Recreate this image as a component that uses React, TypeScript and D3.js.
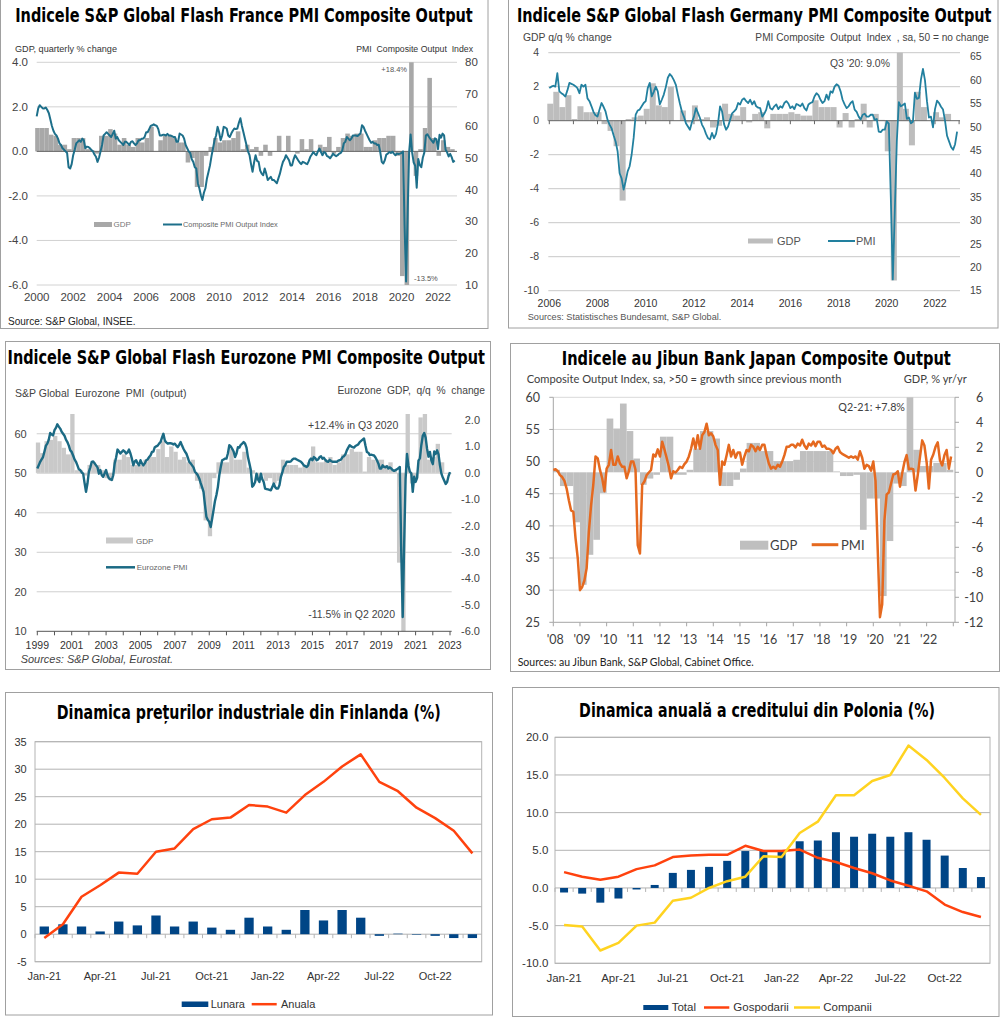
import React from "react";
import * as d3 from "d3";

// ---------- France ----------
const frPmi = [
  63, 65.5, 66.5, 66, 65.5, 65.5, 65.8, 65, 64, 62, 60, 58.5,
  57.5, 57, 56, 54.5, 54, 53, 52.5, 52, 51.5, 47, 46.6, 48,
  50.8, 52.5, 54.5, 55, 55.5, 55, 56, 55.5, 53, 53.5, 53.4, 53,
  52.4, 52, 51, 50.3, 48.7, 50, 52, 54, 57, 57.5, 58, 57.5,
  57, 56.5, 57.5, 58.5, 56, 56.5, 55.5, 55, 54.5, 54, 55, 55,
  54.5, 54, 55, 55.2, 54.5, 54, 54.5, 55.5, 55.5, 56, 56, 56.5,
  58, 58, 59, 60, 60.2, 60.5, 60.2, 60, 59, 57, 57, 57.2,
  57.2, 57, 57.5, 57, 57, 56.8, 56.5, 56.5, 55, 55, 57.6, 57.3,
  57, 56, 54, 53, 52, 51.5, 49.5, 48.7, 47, 46.6, 42, 40.4,
  38.2, 36.7, 39, 40.4, 43.5, 45.5, 47.6, 50.5, 53, 55.5, 57, 59.7,
  58, 55.5, 57, 59.7, 59.5, 59.2, 57, 56.5, 57.6, 58.5, 59.2, 59,
  59.2, 61, 62.4, 60, 58, 56, 54, 52, 50.8, 48, 45.6, 48.5,
  50.8, 49, 48.7, 46, 45, 44.5, 46.6, 45, 43, 43.5, 44, 43,
  43, 42.5, 42, 43.5, 45, 47, 48.7, 49.5, 50.8, 50, 49.2, 47.6,
  47.6, 49.5, 50.8, 50, 49.2, 48.5, 48, 48.7, 48.5, 48.2, 48, 49,
  50.3, 51, 51.8, 51.2, 50.8, 52, 52.9, 51.8, 50.8, 51.8, 51.5, 50.5,
  50.3, 49.8, 50.5, 51.3, 50.8, 50.5, 50.8, 51.3, 51.5, 52.2, 54.5, 55,
  56.5, 56, 55.5, 56, 57, 57, 57, 56.8, 57.2, 57.6, 60.2, 59.7,
  58.5, 57.5, 56.5, 55.5, 54.7, 55, 54.5, 54.5, 54, 54.1, 51.8, 48.7,
  48.2, 49.2, 51, 51.3, 51.8, 51.5, 51.9, 51.3, 50.8, 51.3, 51.2, 51.3,
  51.5, 52, 28.9, 11.1, 32.1, 51.7, 57.3, 51.6, 48.5, 47.5, 40.6, 49.6,
  47.7, 47, 50, 51.6, 57, 57.4, 56.6, 55.9, 55.3, 54.7, 56.1, 55.8,
  52.7, 57.2, 56.3, 57.6, 57, 52.5, 51.7, 50.4, 51.2, 50.2, 48.7, 49.1,
];
const frGdp = [
  1.05, 1.05, 1.05, 0.75, 0.7, 0.3, 0.3, 0.1, 0.6, 0.6, 0.6, 0.1,
  0.05, -0.1, 0.7, 0.7, 1.0, 0.8, 0.3, 0.6, 0.3, 0.2, 0.6, 0.4,
  0.6, 1.1, 0.0, 0.5, 0.7, 0.7, 0.6, 0.4, 0.4, -0.5, -0.3, -1.6,
  -1.6, -0.2, 0.2, 0.6, 0.4, 0.5, 0.5, 0.6, 0.9, 0.1, 0.3, 0.1,
  0.2, -0.2, 0.3, -0.2, 0.0, 0.7, 0.0, 0.7, 0.0, -0.1, 0.55, 0.1,
  0.55, 0.0, 0.3, 0.2, 0.65, -0.1, 0.2, 0.6, 0.8, 0.7, 0.8, 0.8,
  0.2, 0.2, 0.5, 0.6, 0.6, 0.7, 0.7, -0.2, -5.6, -13.5, 18.4, -1.1,
  0.1, 1.05, 3.3, 0.6, -0.2, 0.5, 0.2, 0.1,
];
const frGdpTicks = [4, 2, 0, -2, -4, -6];
const frPmiTicks = [80, 70, 60, 50, 40, 30, 20, 10];
const frYears = [2000, 2002, 2004, 2006, 2008, 2010, 2012, 2014, 2016, 2018, 2020, 2022];

// ---------- Germany ----------
const dePmi = [
  58.3, 58.6, 58.8, 58.6, 61.5, 57.6, 57.2, 56.9, 56.5, 57.8, 59.4, 59.2,
  59, 58.7, 58.3, 57.2, 59, 58.6, 59, 56.1, 55.5, 54.4, 53.2, 52.5,
  52.2, 53.7, 55.1, 54.3, 53.3, 51.5, 50.5, 49.7, 48.2, 46.9, 44.8, 40.1,
  39, 36.6, 38.4, 40.5, 41.6, 44.1, 47.7, 52.6, 53.5, 53.7, 54.4, 55.1,
  55.5, 58.3, 59.4, 56.5, 57.5, 58.6, 57.6, 54.8, 55.8, 56.9, 58.5, 60.5,
  61.3, 60.8, 60, 59, 56.9, 55, 53.3, 52.2, 50.8, 50.1, 49.4, 51,
  52.2, 54, 53, 51.9, 50.5, 49.7, 48.5, 47.6, 47.3, 48.7, 47.6, 48.5,
  50.8, 54.4, 53.3, 50.6, 49.4, 50.1, 51.5, 52.9, 53.3, 53.8, 55.1, 54.8,
  55.8, 56.1, 55.5, 55.1, 55.8, 54.8, 55.5, 54.4, 54.1, 54, 52.2, 52.8,
  53.7, 55.5, 54, 53.7, 54.4, 54.8, 53.8, 54.4, 54.1, 55.1, 55.5, 55,
  54, 54.4, 53.8, 54.9, 54.7, 54.4, 55, 54, 53.5, 54.8, 55.1, 55.3,
  56.5, 57.2, 56.8, 55.8, 55.1, 55.5, 56.9, 55.8, 57.6, 57.3, 58.6, 59.1,
  58.8, 57.6, 55.8, 54.8, 54, 54.4, 55.1, 55.5, 53.7, 53.2, 52.2, 51.6,
  52.6, 52.8, 52.2, 52.2, 52.6, 52.6, 51.5, 51.7, 49, 48.9, 49.4, 49.4,
  51.2, 50.7, 35, 17.4, 32.3, 47, 55.3, 54.4, 54.7, 55, 51.7, 52,
  50.8, 51.1, 57.3, 56, 56.2, 60.1, 62.4, 60, 55.5, 52, 52.2, 49.9,
  53.8, 55.6, 55.1, 54.3, 53.7, 51.3, 48.1, 46.9, 45.7, 45.1, 46.3, 49,
];
const deGdp = [
  1.0, 1.7, 0.8, 1.5, 0.1, 0.85, 0.5, 0.5, 0.5, -0.2, -0.6, -1.5,
  -4.7, 0.1, 0.2, 0.3, 0.7, 2.2, 0.9, 0.8, 2.0, 0.0, 0.6, -0.1,
  0.9, 0.1, 0.2, -0.4, -0.3, 1.0, 0.4, 0.3, 0.8, -0.1, 0.4, 0.5,
  -0.45, 0.4, 0.4, 0.4, 0.5, 0.4, 0.3, 0.3, 1.2, 0.8, 0.8, 0.8,
  -0.4, 0.45, -0.4, 0.1, 1.0, -0.4, 0.4, 0.05, -1.8, -9.4, 9.0, 0.7,
  -1.45, 1.7, 0.8, 0.0, 0.5, 0.2, 0.4, 0.0,
];
const deGdpTicks = [4, 2, 0, -2, -4, -6, -8, -10];
const dePmiTicks = [65, 60, 55, 50, 45, 40, 35, 30, 25, 20, 15];
const deYears = [2006, 2008, 2010, 2012, 2014, 2016, 2018, 2020, 2022];

// ---------- Eurozone ----------
const ezPmi = [
  51.2, 52, 52.9, 53.5, 54.1, 55.5, 57, 57.5, 58.5, 60.2, 59.8, 59.6,
  60.9, 61.5, 62.4, 61.8, 61.3, 60.5, 60, 59.5, 58.5, 57.9, 57, 55.8,
  55.4, 54.5, 53.5, 52.9, 52, 51, 50.8, 50.2, 49.9, 47.5, 45.3, 47.4,
  50.4, 51.5, 52.9, 53, 52.5, 52, 51.5, 49.9, 50.8, 49.5, 49.1, 50,
  50.8, 49.5, 48.7, 48.5, 48.3, 49.5, 52.5, 54, 56, 55.5, 55, 55.4,
  55.8, 55.5, 55, 55.3, 56, 55, 53.7, 52, 53, 53.3, 52.5, 52,
  53.3, 52.5, 52, 52.5, 53.3, 53.5, 54.1, 54.5, 55.4, 55.5, 56.6, 56.8,
  57, 57.5, 57.9, 59, 60, 58.3, 57.8, 57.5, 57.6, 57.6, 57.5, 57.3,
  57.5, 57, 56.6, 57.2, 57.9, 57, 56.2, 55.5, 55, 54, 52.9, 52.5,
  52, 51.5, 50.4, 50, 49.5, 48.7, 47.5, 46.5, 45.3, 42, 39, 38.2,
  37.7, 36.4, 38.5, 40.7, 43, 44.5, 46.5, 49.5, 51.5, 53.3, 53.5, 53.7,
  53.7, 55, 57.1, 56.8, 56.2, 55.5, 54.1, 55, 56.6, 56.5, 57.2, 57.5,
  57.9, 57.5, 56.5, 54.1, 52.5, 50.8, 46.6, 47, 47.8, 49.9, 48.5, 47.8,
  49.9, 48.5, 47.8, 46.1, 46, 45.9, 45.8, 45.7, 46.5, 47.4, 46.5, 46.1,
  46.1, 47, 49.1, 50.2, 51.6, 52, 52.9, 52.9, 52.9, 53, 53.5, 53.7,
  53.7, 53.5, 53.3, 53.1, 52.9, 52.5, 52, 51.8, 51.6, 52, 53.3, 53.7,
  53.3, 54.1, 53.8, 53.3, 53.5, 54.1, 54.3, 53.7, 53.9, 53.4, 53, 52.9,
  53.4, 53.1, 52.9, 52.9, 52.9, 52.9, 53.2, 53.3, 53.5, 54.1, 54.3, 54.8,
  55.8, 56.5, 57.1, 56.8, 56.6, 56.5, 56.9, 57.1, 57.3, 57.9, 58.2, 58.5,
  58.8, 57, 55.4, 55.2, 54.6, 54.7, 54.6, 54.5, 54, 53.3, 52.5, 51.2,
  51.2, 52, 51.6, 51.5, 51.8, 51.2, 51.5, 51.2, 50.8, 50.6, 50.8, 51,
  51.3, 51.6, 29.7, 13.6, 31.9, 48.5, 54.9, 51.9, 50.4, 50, 45.3, 49.1,
  47.8, 48.8, 53.2, 53.8, 57.1, 59.5, 60.2, 59, 56.2, 54.2, 55.4, 53.3,
  52.3, 55.5, 54.9, 55.8, 54.8, 52, 49.9, 48.9, 48.1, 47.3, 47.8, 49.3,
  50.3,
];
const ezGdp = [
  1.15, 0.75, 1.2, 1.25, 1.4, 1.2, 0.95, 0.7, 2.5, 0.1, 0.1, -0.1,
  0.3, 0.4, 0.3, 0.1, -0.2, -0.3, 0.5, 0.5, 0.7, 0.6, 0.3, 0.3,
  0.3, 0.5, 0.6, 0.6, 0.9, 1.2, 0.6, 1.0, 0.8, 0.5, 0.6, 0.4,
  0.5, -0.3, -0.6, -1.8, -2.4, -0.2, 0.4, 0.4, 0.4, 0.9, 0.5, 0.5,
  0.8, 0.2, 0.1, -0.3, -0.1, -0.3, -0.2, -0.4, -0.3, 0.5, 0.3, 0.3,
  0.3, 0.2, 0.3, 0.4, 1.0, 0.4, 0.4, 0.5, 0.6, 0.3, 0.4, 0.7,
  0.7, 0.9, 0.8, 0.8, 0.05, 0.6, 0.5, 0.5, 0.5, 0.3, 0.4, 0.1,
  -3.4, -11.5, 12.4, -0.4, -0.2, 2.1, 2.3, 0.5, 0.6, 1.1, 0.4, 0.0,
];
const ezPmiTicks = [60, 50, 40, 30, 20, 10];
const ezGdpTicks = [2, 1, 0, -1, -2, -3, -4, -5, -6];
const ezYears = [1999, 2001, 2003, 2005, 2007, 2009, 2011, 2013, 2015, 2017, 2019, 2021, 2023];

// ---------- Japan ----------
const jpPmi = [
  48.7, 48.8, 48.5, 47.9, 47.6, 47, 45.8, 44, 42.4, 42.2, 38.1, 35,
  30, 30.5, 31.5, 33.4, 39.1, 43.2, 46.4, 50.8, 50.5, 48.7, 47.4, 45.4,
  48.9, 49.5, 51.8, 49.5, 49.5, 50.8, 49.7, 49.2, 49.2, 47.4, 48.5, 50,
  50, 48.7, 37, 35.7, 46.4, 46.9, 47.9, 48.3, 48.7, 51.1, 50.8, 51.9,
  50.8, 53.1, 51.9, 50.6, 49.2, 47.4, 48.5, 48.3, 48.7, 49.2, 49, 49.6,
  50, 50.8, 52, 53.6, 52, 54.1, 52, 54.1, 54.6, 55.9, 54.1, 54.4,
  53.9, 52.6, 51.8, 46.4, 50, 49.5, 51, 52.6, 50.8, 51.8, 50.6, 51.4,
  51.4, 49.5, 50.8, 51.8, 51.6, 52.6, 52.3, 51.6, 52.3, 51.8, 52.6, 52.6,
  51, 49.7, 48.9, 49.2, 48.9, 49.5, 49.2, 50, 51, 52.3, 52.3, 52.6,
  52.6, 52.2, 52.8, 52.5, 53.4, 52.5, 52, 52.8, 52.5, 53.1, 52.4, 53.1,
  53.1, 52.3, 52.5, 52, 52, 51.8, 51.3, 52, 52.3, 51.5, 51.2, 51,
  50.8, 50.6, 50.8, 50.6, 50.8, 50.3, 51.6, 50.6, 48.9, 49.5, 49.3, 48.6,
  50, 47, 36.2, 25.8, 27.8, 40.8, 44.9, 45.2, 46.6, 48, 48.1, 48.5,
  46.1, 48.2, 49.9, 51, 48.8, 48.9, 48.8, 45.5, 47.9, 50.7, 53.3, 52.5,
  49.9, 45.8, 50.3, 51.1, 52.3, 53, 50.2, 49.4, 51, 51.8, 48.9, 50.8,
];
const jpGdp = [
  0.2, -1.1, -1.1, -4.0, -9.0, -6.6, -5.4, -1.65, 4.3, 3.5, 5.5, 3.3,
  1.1, -1.0, -0.5, -0.2, 2.85, 2.85, -0.2, -0.2, 0.2, 1.9, 3.3, 3.3,
  2.7, -1.1, -1.1, -0.6, 0.3, 2.35, 2.35, 1.7, 1.7, 0.9, 0.9, 0.9,
  1.0, 1.7, 1.7, 1.7, 1.7, 1.7, 0.07, -0.3, -0.3, -0.2, -4.6, -2.1,
  -2.1, -9.9, -5.5, -0.9, -1.1, 7.8, 1.8, 0.5, 0.5, 0.75, 0.75, 0.2,
];
const jpPmiTicks = [60, 55, 50, 45, 40, 35, 30, 25];
const jpGdpTicks = [6, 4, 2, 0, -2, -4, -6, -8, -10, -12];
const jpYears = [2008, 2009, 2010, 2011, 2012, 2013, 2014, 2015, 2016, 2017, 2018, 2019, 2020, 2021, 2022];
const jpYearLabels = ["'08", "'09", "'10", "'11", "'12", "'13", "'14", "'15", "'16", "'17", "'18", "'19", "'20", "'21", "'22"];

// ---------- Finland / Poland (monthly) ----------
const months = [
  "Jan-21", "Feb-21", "Mar-21", "Apr-21", "May-21", "Jun-21", "Jul-21", "Aug-21", "Sep-21", "Oct-21", "Nov-21", "Dec-21",
  "Jan-22", "Feb-22", "Mar-22", "Apr-22", "May-22", "Jun-22", "Jul-22", "Aug-22", "Sep-22", "Oct-22", "Nov-22", "Dec-22",
];
const fiLunara = [1.4, 1.8, 1.4, 0.5, 2.3, 1.6, 3.4, 1.4, 2.3, 1.2, 0.8, 3.0, 1.4, 0.8, 4.4, 2.5, 4.4, 3.0, -0.3, 0.1, -0.1, -0.3, -0.7, -0.7];
const fiAnuala = [-0.7, 1.8, 6.8, 8.9, 11.2, 11.0, 15.0, 15.6, 19.1, 20.9, 21.2, 23.5, 23.2, 22.1, 25.3, 27.7, 30.5, 32.7, 27.7, 26.0, 23.0, 21.1, 18.8, 14.7];
const fiTicks = [35, 30, 25, 20, 15, 10, 5, 0, -5];

const plTotal = [-0.6, -0.75, -1.95, -1.4, -0.2, 0.4, 2.0, 2.4, 2.8, 3.6, 4.9, 5.0, 5.0, 6.2, 6.3, 7.4, 6.8, 7.2, 6.8, 7.4, 6.4, 4.3, 2.65, 1.45];
const plGosp = [2.1, 1.5, 1.1, 1.5, 2.5, 3.0, 4.1, 4.3, 4.4, 4.4, 5.6, 4.9, 4.9, 5.1, 4.0, 3.45, 2.65, 1.95, 1.0, 0.3, -0.45, -2.2, -3.2, -3.85];
const plComp = [-4.9, -5.1, -8.3, -7.3, -5.0, -4.6, -1.7, -1.3, 0.0, 0.9, 1.5, 4.2, 4.1, 7.3, 8.8, 12.3, 12.3, 14.2, 15.0, 18.9, 17.0, 14.6, 11.9, 9.7];
const plTicks = [20, 15, 10, 5, 0, -5, -10];

// ---------- helpers ----------
const ARIAL = "'Liberation Sans', Arial, sans-serif";
const NARROW = "'Liberation Sans Narrow', 'Arial Narrow', 'Liberation Sans', sans-serif";
const COND = "'DejaVu Sans Condensed', 'Liberation Sans Narrow', sans-serif";
const CALIBRI = "Lato, 'Open Sans', sans-serif";
const FRAME = "#a0a0a0";

let measureCtx: CanvasRenderingContext2D | null = null;
const measure = (s: string, font: string) => {
  if (!measureCtx) measureCtx = document.createElement("canvas").getContext("2d");
  if (!measureCtx) return 0;
  measureCtx.font = font;
  return measureCtx.measureText(s).width;
};

type TP = {
  x: number; y: number; children: React.ReactNode; size?: number; anchor?: string;
  weight?: string | number; family?: string; fill?: string; len?: number; italic?: boolean; dy?: string;
};
// len: target width in px; the text is measured and squeezed/stretched horizontally to fit it
const T = ({ x, y, children, size = 11, anchor = "start", weight = "normal", family = ARIAL, fill = "#333", len, italic, dy }: TP) => {
  const common = {
    fontSize: size, textAnchor: anchor as any, fontWeight: weight as any, fontFamily: family, fill,
    fontStyle: italic ? "italic" : undefined, style: { whiteSpace: "pre" as const },
  };
  if (len) {
    const font = `${italic ? "italic " : ""}${weight} ${size}px ${family}`;
    const w = measure(String(children), font);
    const sx = w > 0 ? len / w : 1;
    return (
      <text transform={`translate(${x},${y}) scale(${sx},1)`} x={0} y={0} dy={dy} {...common}>{children}</text>
    );
  }
  return <text x={x} y={y} dy={dy} {...common}>{children}</text>;
};

const Title = ({ cx, y, len, size, children }: { cx: number; y: number; len: number; size: number; children: string }) => (
  <T x={cx} y={y} anchor="middle" size={size} weight="bold" family={COND} fill="#000" len={len}>{children}</T>
);

const monthPath = (vals: number[], start: number, x: any, y: any) =>
  d3.line<number>().x((_, i) => x(start + i / 12)).y((v) => y(v))(vals) || "";

// quarterly bars; off = offset (years) of the bar's left edge from the quarter start
const QBars = ({ vals, start, x, y, fill, off }: { vals: number[]; start: number; x: any; y: any; fill: string; off: number }) => {
  const w = x(start + 0.25) - x(start);
  return (
    <g>
      {vals.map((v, i) => {
        const x0 = x(start + i / 4 + off);
        const a = y(0), b = y(v);
        return <rect key={i} x={x0} width={w} y={Math.min(a, b)} height={Math.abs(b - a)} fill={fill} />;
      })}
    </g>
  );
};

// ---------- panels ----------
function France() {
  const x = d3.scaleLinear().domain([2000, 2022]).range([36.7, 438]);
  const g = d3.scaleLinear().domain([-6, 4]).range([285, 62.3]).clamp(true);
  const p = d3.scaleLinear().domain([10, 80]).range([285, 62.3]);
  const L = 36.7, R = 457;
  const teal = "#1d6f8a";
  return (
    <g>
      <rect x={0.5} y={-2} width={487.5} height={330.5} fill="none" stroke={FRAME} />
      <Title cx={244} y={21.7} len={458} size={19}>Indicele S&amp;P Global Flash France PMI Composite Output</Title>
      <T x={15} y={51.7} size={9.5} len={102}>GDP, quarterly % change</T>
      <T x={473} y={51.7} size={9.5} anchor="end" len={117}>PMI  Composite Output  Index</T>
      {frGdpTicks.filter((t) => t !== 0).map((t) => (
        <line key={t} x1={L} x2={R} y1={g(t)} y2={g(t)} stroke="#d2d2d2" />
      ))}
      <QBars vals={frGdp} start={2000} x={x} y={g} fill="#a8a8a8" off={-1 / 12} />
      <line x1={L} x2={R} y1={g(0)} y2={g(0)} stroke="#666" />
      <path d={monthPath(frPmi, 2000, x, p)} fill="none" stroke={teal} strokeWidth={2} strokeLinejoin="round" />
      {frGdpTicks.map((t) => (
        <T key={t} x={28} y={g(t)} dy="0.35em" anchor="end" size={11.5} family={NARROW} fill="#444">{t.toFixed(1)}</T>
      ))}
      {frPmiTicks.map((t) => (
        <T key={t} x={465} y={p(t)} dy="0.35em" size={11.5} family={NARROW} fill="#444">{t}</T>
      ))}
      {frYears.map((yr) => (
        <T key={yr} x={x(yr)} y={301} anchor="middle" size={11.5} family={NARROW} fill="#444">{yr}</T>
      ))}
      <rect x={94} y={222} width={18} height={5} fill="#a8a8a8" />
      <T x={113.5} y={227} size={8} fill="#777">GDP</T>
      <line x1={163} x2={182} y1={224.5} y2={224.5} stroke={teal} strokeWidth={2} />
      <T x={183} y={227} size={8} fill="#666" len={95}>Composite PMI Output Index</T>
      <T x={407} y={72} size={7.5} anchor="end" fill="#555">+18.4%</T>
      <T x={414} y={281} size={7.5} fill="#555">-13.5%</T>
      <T x={8} y={325} size={11} fill="#222" len={128}>Source: S&amp;P Global, INSEE.</T>
    </g>
  );
}

function Germany() {
  const x = d3.scaleLinear().domain([2006, 2022]).range([549.3, 935]);
  const g = d3.scaleLinear().domain([-10, 4]).range([290.7, 52.7]).clamp(true);
  const p = d3.scaleLinear().domain([15, 65]).range([290.7, 56.7]);
  const L = 548.3, R = 960;
  const teal = "#22809f";
  return (
    <g>
      <rect x={508.5} y={-2} width={489.5} height={330} fill="none" stroke={FRAME} />
      <Title cx={754.2} y={21.7} len={475} size={19}>Indicele S&amp;P Global Flash Germany PMI Composite Output</Title>
      <T x={523} y={40.7} size={10.5} len={89} fill="#444">GDP q/q % change</T>
      <T x={989} y={40.7} size={10.5} anchor="end" len={234} fill="#444">PMI Composite  Output  Index  , sa, 50 = no change</T>
      {deGdpTicks.filter((t) => t !== 0).map((t) => (
        <line key={t} x1={L} x2={R} y1={g(t)} y2={g(t)} stroke="#c8c8c8" />
      ))}
      <QBars vals={deGdp} start={2006} x={x} y={g} fill="#bdbdbd" off={-1 / 12} />
      <line x1={L} x2={R} y1={g(0)} y2={g(0)} stroke="#666" />
      {d3.range(2006, 2024).map((yr) => (
        <line key={yr} x1={x(yr)} x2={x(yr)} y1={g(0)} y2={g(0) + 3.5} stroke="#666" />
      ))}
      <path d={monthPath(dePmi, 2006, x, p)} fill="none" stroke={teal} strokeWidth={1.8} strokeLinejoin="round" />
      {deGdpTicks.map((t) => (
        <T key={t} x={539} y={g(t)} dy="0.35em" anchor="end" size={10.5} fill="#444">{t}</T>
      ))}
      {dePmiTicks.map((t) => (
        <T key={t} x={970} y={p(t)} dy="0.35em" size={10.5} fill="#444">{t}</T>
      ))}
      {deYears.map((yr) => (
        <T key={yr} x={x(yr)} y={307} anchor="middle" size={10.5} fill="#333">{yr}</T>
      ))}
      <rect x={748} y={238.5} width={25} height={5} fill="#bdbdbd" />
      <T x={777} y={245} size={11} fill="#555">GDP</T>
      <line x1={828} x2={855} y1={241} y2={241} stroke={teal} strokeWidth={2} />
      <T x={856} y={245} size={11} fill="#555">PMI</T>
      <T x={830} y={67} size={10} fill="#444" len={60}>Q3 '20: 9.0%</T>
      <T x={527.7} y={319.5} size={8.5} fill="#555" len={194}>Sources: Statistisches Bundesamt, S&amp;P Global.</T>
    </g>
  );
}

function Eurozone() {
  const x = d3.scaleLinear().domain([1999, 2023]).range([37.3, 450]);
  const p = d3.scaleLinear().domain([10, 65]).range([631.3, 414]);
  const g = d3.scaleLinear().domain([-6, 2.23]).range([631.3, 414]).clamp(true);
  const L = 36.7, R = 451.7;
  const teal = "#1b6a84";
  return (
    <g>
      <rect x={5.5} y={341.5} width={485} height={328} fill="none" stroke={FRAME} />
      <Title cx={246.2} y={364} len={477.7} size={19.5}>Indicele S&amp;P Global Flash Eurozone PMI Composite Output</Title>
      <T x={15} y={397} size={10.5} len={171.7} fill="#444">S&amp;P Global  Eurozone  PMI  (output)</T>
      <T x={485} y={393.5} size={10.5} anchor="end" len={147.7} fill="#444">Eurozone  GDP,  q/q  %  change</T>
      {ezPmiTicks.filter((t) => t !== 10).map((t) => (
        <line key={t} x1={L} x2={R} y1={p(t)} y2={p(t)} stroke="#cfcfcf" />
      ))}
      <QBars vals={ezGdp} start={1999} x={x} y={g} fill="#c9c9c9" off={-1 / 12} />
      <line x1={L} x2={R} y1={p(10)} y2={p(10)} stroke="#555" />
      {d3.range(1999, 2024).map((yr) => (
        <line key={yr} x1={x(yr)} x2={x(yr)} y1={p(10)} y2={p(10) + 4} stroke="#555" />
      ))}
      <path d={monthPath(ezPmi, 1999, x, p)} fill="none" stroke={teal} strokeWidth={2.4} strokeLinejoin="round" />
      {ezPmiTicks.map((t) => (
        <T key={t} x={26.7} y={p(t)} dy="0.35em" anchor="end" size={11} fill="#444">{t}</T>
      ))}
      {ezGdpTicks.map((t) => (
        <T key={t} x={480} y={g(t)} dy="0.35em" anchor="end" size={11} fill="#444">{t.toFixed(1)}</T>
      ))}
      {ezYears.map((yr) => (
        <T key={yr} x={x(yr)} y={648.5} anchor="middle" size={10.5} fill="#333">{yr}</T>
      ))}
      <rect x={106} y={537.5} width={27} height={6} fill="#c9c9c9" />
      <T x={136} y={543.5} size={8} fill="#666">GDP</T>
      <line x1={106} x2={135} y1={567.3} y2={567.3} stroke={teal} strokeWidth={2.5} />
      <T x={136.7} y={570} size={8} fill="#666">Eurozone PMI</T>
      <T x={398.3} y={428.5} size={10.5} anchor="end" fill="#444">+12.4% in Q3 2020</T>
      <T x={395} y={618} size={10.5} anchor="end" fill="#444">-11.5% in Q2 2020</T>
      <T x={20.7} y={663} size={10.5} italic fill="#444" len={153}>Sources: S&amp;P Global, Eurostat.</T>
    </g>
  );
}

function Japan() {
  const x = d3.scaleLinear().domain([2008, 2023]).range([553.3, 953.3]);
  const p = d3.scaleLinear().domain([25, 60]).range([622.3, 397.3]);
  const g = d3.scaleLinear().domain([-12, 6]).range([622.3, 397.3]).clamp(true);
  const L = 553.3, R = 955;
  const orange = "#e5691f";
  return (
    <g>
      <rect x={510.5} y={343.5} width={489} height={328} fill="none" stroke={FRAME} />
      <Title cx={756.3} y={364.7} len={389.3} size={19.5}>Indicele au Jibun Bank Japan Composite Output</Title>
      <T x={526.7} y={382.5} size={10.5} family={CALIBRI} fill="#404040" len={315}>Composite Output Index, sa, &gt;50 = growth since previous month</T>
      <T x={966.7} y={382.5} size={10.5} anchor="end" family={CALIBRI} fill="#404040" len={63.3}>GDP, % yr/yr</T>
      {jpPmiTicks.filter((t) => t !== 25).map((t) => (
        <line key={t} x1={L} x2={R} y1={p(t)} y2={p(t)} stroke="#d9d9d9" />
      ))}
      <QBars vals={jpGdp} start={2008} x={x} y={g} fill="#bfbfbf" off={0} />
      <line x1={L} x2={R} y1={p(25)} y2={p(25)} stroke="#a6a6a6" />
      <line x1={L} x2={L} y1={p(60)} y2={p(25)} stroke="#a6a6a6" />
      <line x1={R} x2={R} y1={p(60)} y2={p(25)} stroke="#a6a6a6" />
      {jpPmiTicks.map((t) => (
        <line key={t} x1={L - 4} x2={L} y1={p(t)} y2={p(t)} stroke="#a6a6a6" />
      ))}
      {jpGdpTicks.map((t) => (
        <line key={t} x1={R} x2={R + 4} y1={g(t)} y2={g(t)} stroke="#a6a6a6" />
      ))}
      {d3.range(2008, 2024).map((yr) => (
        <line key={yr} x1={x(yr)} x2={x(yr)} y1={p(25)} y2={p(25) + 4} stroke="#a6a6a6" />
      ))}
      <path d={monthPath(jpPmi, 2008, x, p)} fill="none" stroke={orange} strokeWidth={2.5} strokeLinejoin="round" />
      {jpPmiTicks.map((t) => (
        <T key={t} x={540} y={p(t)} dy="0.35em" anchor="end" size={12.5} family={CALIBRI} fill="#404040">{t}</T>
      ))}
      {jpGdpTicks.map((t) => (
        <T key={t} x={983.3} y={g(t)} dy="0.35em" anchor="end" size={12.5} family={CALIBRI} fill="#404040">{t}</T>
      ))}
      {jpYears.map((yr, i) => (
        <T key={yr} x={x(yr) + 2} y={644} anchor="middle" size={12.5} family={CALIBRI} fill="#404040">{jpYearLabels[i]}</T>
      ))}
      <rect x={740} y={540.7} width={28.3} height={9} fill="#bfbfbf" />
      <T x={770} y={550} size={13} family={CALIBRI} fill="#404040">GDP</T>
      <line x1={811.7} x2={838.3} y1={544.7} y2={544.7} stroke={orange} strokeWidth={3} />
      <T x={841} y={550} size={13} family={CALIBRI} fill="#404040">PMI</T>
      <T x={905} y={411} size={11} anchor="end" family={CALIBRI} fill="#404040" len={66.7}>Q2-21: +7.8%</T>
      <T x={517.7} y={666} size={10.5} family={CALIBRI} fill="#222" len={236.7}>Sources: au Jibun Bank, S&amp;P Global, Cabinet Office.</T>
    </g>
  );
}

function Finland() {
  const x = d3.scaleBand().domain(months).range([35, 481.7]);
  const y = d3.scaleLinear().domain([-5, 35]).range([961.7, 741.7]);
  const bw = x.bandwidth();
  const cx = (m: string) => (x(m) as number) + bw / 2;
  const line = d3.line<number>().x((_, i) => cx(months[i])).y((v) => y(v));
  return (
    <g>
      <rect x={5.5} y={692.5} width={487} height={322.5} fill="none" stroke={FRAME} />
      <Title cx={248.7} y={719.3} len={384} size={20}>Dinamica prețurilor industriale din Finlanda (%)</Title>
      {fiTicks.map((t) => (
        <line key={t} x1={35} x2={481.7} y1={y(t)} y2={y(t)} stroke="#b3b3b3" />
      ))}
      <rect x={35} y={y(35)} width={446.7} height={y(-5) - y(35)} fill="none" stroke="#b3b3b3" />
      {months.map((m) => (
        <line key={m} x1={x(m) as number} x2={x(m) as number} y1={y(0)} y2={y(0) + 4} stroke="#b3b3b3" />
      ))}
      {fiLunara.map((v, i) => (
        <rect key={i} x={(x(months[i]) as number) + bw * 0.25} width={bw * 0.5} y={Math.min(y(0), y(v))}
          height={Math.abs(y(v) - y(0))} fill="#004586" />
      ))}
      <path d={line(fiAnuala) || ""} fill="none" stroke="#ff420e" strokeWidth={2.5} strokeLinejoin="round" />
      {fiTicks.map((t) => (
        <T key={t} x={26.7} y={y(t)} dy="0.35em" anchor="end" size={11} fill="#333">{t}</T>
      ))}
      {months.filter((_, i) => i % 3 === 0).map((m) => (
        <T key={m} x={cx(m)} y={980} anchor="middle" size={11} fill="#333">{m}</T>
      ))}
      <rect x={181.7} y={1001.5} width={26.6} height={5.5} fill="#004586" />
      <T x={210.7} y={1008} size={11} fill="#333">Lunara</T>
      <line x1={251.7} x2={276.7} y1={1004.2} y2={1004.2} stroke="#ff420e" strokeWidth={2.5} />
      <T x={281} y={1008} size={11} fill="#333">Anuala</T>
    </g>
  );
}

function Poland() {
  const x = d3.scaleBand().domain(months).range([555, 990]);
  const y = d3.scaleLinear().domain([-10, 20]).range([963.3, 737.3]);
  const bw = x.bandwidth();
  const cx = (m: string) => (x(m) as number) + bw / 2;
  const line = d3.line<number>().x((_, i) => cx(months[i])).y((v) => y(v));
  return (
    <g>
      <rect x={512.5} y={687.5} width={486.5} height={329} fill="none" stroke={FRAME} />
      <Title cx={757} y={716.7} len={356} size={20}>Dinamica anuală a creditului din Polonia (%)</Title>
      {plTicks.map((t) => (
        <line key={t} x1={555} x2={990} y1={y(t)} y2={y(t)} stroke="#b3b3b3" />
      ))}
      <rect x={555} y={y(20)} width={435} height={y(-10) - y(20)} fill="none" stroke="#b3b3b3" />
      {months.map((m) => (
        <line key={m} x1={x(m) as number} x2={x(m) as number} y1={y(0)} y2={y(0) + 4} stroke="#b3b3b3" />
      ))}
      {plTotal.map((v, i) => (
        <rect key={i} x={(x(months[i]) as number) + bw * 0.28} width={bw * 0.44} y={Math.min(y(0), y(v))}
          height={Math.abs(y(v) - y(0))} fill="#004586" />
      ))}
      <path d={line(plGosp) || ""} fill="none" stroke="#ff420e" strokeWidth={2.5} strokeLinejoin="round" />
      <path d={line(plComp) || ""} fill="none" stroke="#ffd320" strokeWidth={2.5} strokeLinejoin="round" />
      {plTicks.map((t) => (
        <T key={t} x={548.3} y={y(t)} dy="0.35em" anchor="end" size={11.5} fill="#333">{t.toFixed(1)}</T>
      ))}
      {months.filter((_, i) => i % 3 === 0).map((m) => (
        <T key={m} x={cx(m)} y={981.7} anchor="middle" size={11.5} fill="#333">{m}</T>
      ))}
      <rect x={643.3} y={1005} width={25} height={5} fill="#004586" />
      <T x={671.7} y={1010.5} size={11.5} fill="#333">Total</T>
      <line x1={704} x2={729.3} y1={1007.5} y2={1007.5} stroke="#ff420e" strokeWidth={2.5} />
      <T x={733.3} y={1010.5} size={11.5} fill="#333">Gospodarii</T>
      <line x1={794} x2={820} y1={1007.5} y2={1007.5} stroke="#ffd320" strokeWidth={2.5} />
      <T x={823.3} y={1010.5} size={11.5} fill="#333">Companii</T>
    </g>
  );
}

export default function App() {
  return (
    <svg width={1000} height={1017} viewBox="0 0 1000 1017"
      style={{ position: "absolute", left: 0, top: 0, background: "#fff" }}>
      <rect width={1000} height={1017} fill="#fff" />
      <France />
      <Germany />
      <Eurozone />
      <Japan />
      <Finland />
      <Poland />
    </svg>
  );
}
